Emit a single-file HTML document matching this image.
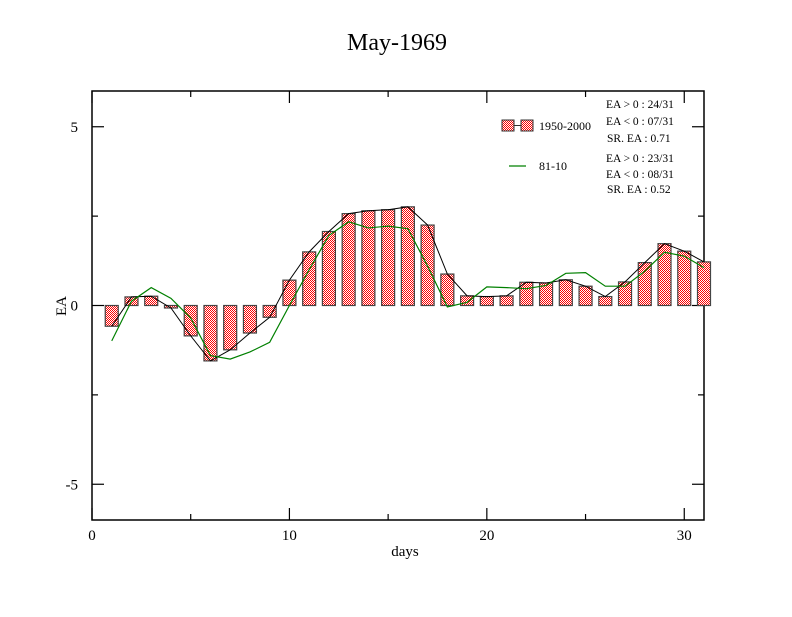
<!DOCTYPE html>
<html><head><meta charset="utf-8"><style>
html,body{margin:0;padding:0;background:#fff;}
svg text{font-family:"Liberation Serif",serif;fill:#000;}
</style></head><body>
<svg id="chart" width="792" height="612" viewBox="0 0 792 612" xmlns="http://www.w3.org/2000/svg">
<defs>
<pattern id="chk" width="2" height="2" patternUnits="userSpaceOnUse">
<rect width="2" height="2" fill="#fff"/><rect width="1" height="1" fill="#f00"/><rect x="1" y="1" width="1" height="1" fill="#f00"/>
</pattern>
</defs>
<text x="397" y="50" font-size="24" text-anchor="middle">May-1969</text>
<rect x="92" y="91" width="612" height="429" fill="none" stroke="#000" stroke-width="1.5"/>
<g id="ticks"></g>
<g id="bars"></g>
<g id="lines"></g>
<text x="405" y="556" font-size="15" text-anchor="middle">days</text>
<text x="66" y="306" font-size="15" text-anchor="middle" transform="rotate(-90 66 306)">EA</text>
<g>
<rect x="502" y="120" width="12" height="11" fill="url(#chk)" stroke="#333"/>
<line x1="514" y1="125.5" x2="521" y2="125.5" stroke="#333"/>
<rect x="521" y="120" width="12" height="11" fill="url(#chk)" stroke="#333"/>
<text x="539" y="130" font-size="12">1950-2000</text>
<line x1="509" y1="166" x2="526" y2="166" stroke="#008000" stroke-width="1.2"/>
<text x="539" y="170" font-size="12">81-10</text>
<text x="606" y="108" font-size="11.5">EA &gt; 0 : 24/31</text>
<text x="606" y="125" font-size="11.5">EA &lt; 0 : 07/31</text>
<text x="607" y="142" font-size="11.5">SR. EA :  0.71</text>
<text x="606" y="162" font-size="11.5">EA &gt; 0 : 23/31</text>
<text x="606" y="178" font-size="11.5">EA &lt; 0 : 08/31</text>
<text x="607" y="193" font-size="11.5">SR. EA :  0.52</text>
</g>
</svg>
<script>
const days = [1,2,3,4,5,6,7,8,9,10,11,12,13,14,15,16,17,18,19,20,21,22,23,24,25,26,27,28,29,30,31];
const ea1950 = [-0.58,0.24,0.26,-0.07,-0.85,-1.55,-1.24,-0.77,-0.33,0.71,1.5,2.07,2.57,2.65,2.68,2.76,2.25,0.88,0.27,0.25,0.27,0.65,0.63,0.72,0.54,0.25,0.66,1.2,1.73,1.52,1.22];
const ea8110 = [-0.99,0.12,0.5,0.2,-0.35,-1.4,-1.5,-1.3,-1.03,0.0,1.0,1.96,2.34,2.17,2.22,2.15,1.1,-0.04,0.09,0.52,0.5,0.47,0.56,0.9,0.92,0.54,0.54,0.96,1.49,1.38,1.06];
const xTicks = [0,10,20,30];
const xMinor = [5,15,25];
const yTicks = [5,0,-5];
const yMinor = [2.5,-2.5];

const NS = "http://www.w3.org/2000/svg";
const X0=92, X1=704, Y0=91, Y1=520;
const xs = v => X0 + (v-0)/(31-0)*(X1-X0);
const ys = v => Y0 + (6-v)/(12)*(Y1-Y0);
function mk(tag, attrs, parent){const e=document.createElementNS(NS,tag);for(const k in attrs)e.setAttribute(k,attrs[k]);parent.appendChild(e);return e;}

const tg=document.getElementById('ticks');
xTicks.forEach(v=>{
  const l=mk('line',{x1:xs(v),x2:xs(v),y1:Y1,y2:Y1-12,stroke:'#000','stroke-width':1.2},tg);
  
  
  const l2=mk('line',{x1:xs(v),x2:xs(v),y1:Y0,y2:Y0+12,stroke:'#000','stroke-width':1.2},tg);
  
  
  const t=mk('text',{x:xs(v),y:Y1+20,'font-size':15,'text-anchor':'middle'},tg);
  t.textContent=v;
  
  
});
xMinor.forEach(v=>{
  const l=mk('line',{x1:xs(v),x2:xs(v),y1:Y1,y2:Y1-6,stroke:'#000','stroke-width':1.2},tg);
  
  
  const l2=mk('line',{x1:xs(v),x2:xs(v),y1:Y0,y2:Y0+6,stroke:'#000','stroke-width':1.2},tg);
  
  
});
yTicks.forEach(v=>{
  const l=mk('line',{x1:X0,x2:X0+12,y1:ys(v),y2:ys(v),stroke:'#000','stroke-width':1.2},tg);
  
  
  const l2=mk('line',{x1:X1,x2:X1-12,y1:ys(v),y2:ys(v),stroke:'#000','stroke-width':1.2},tg);
  
  
  const t=mk('text',{x:X0-14,y:ys(v)+5,'font-size':15,'text-anchor':'end'},tg);
  t.textContent=v;
  
  
});
yMinor.forEach(v=>{
  const l=mk('line',{x1:X0,x2:X0+6,y1:ys(v),y2:ys(v),stroke:'#000','stroke-width':1.2},tg);
  
  
  const l2=mk('line',{x1:X1,x2:X1-6,y1:ys(v),y2:ys(v),stroke:'#000','stroke-width':1.2},tg);
  
  
});

const bg=document.getElementById('bars');
const bw=13;
days.forEach((d,i)=>{
  const v=ea1950[i];
  const y=Math.min(ys(v),ys(0)), h=Math.abs(ys(v)-ys(0));
  const r=mk('rect',{x:xs(d)-bw/2,y:y,width:bw,height:h,fill:'url(#chk)',stroke:'#444','stroke-width':1.2},bg);
  
  
});

const lg=document.getElementById('lines');
const p1=mk('polyline',{points:days.map((d,i)=>xs(d)+','+ys(ea1950[i])).join(' '),fill:'none',stroke:'#000','stroke-width':1},lg);


const p2=mk('polyline',{points:days.map((d,i)=>xs(d)+','+ys(ea8110[i])).join(' '),fill:'none',stroke:'#008000','stroke-width':1.2},lg);


</script>
</body></html>
